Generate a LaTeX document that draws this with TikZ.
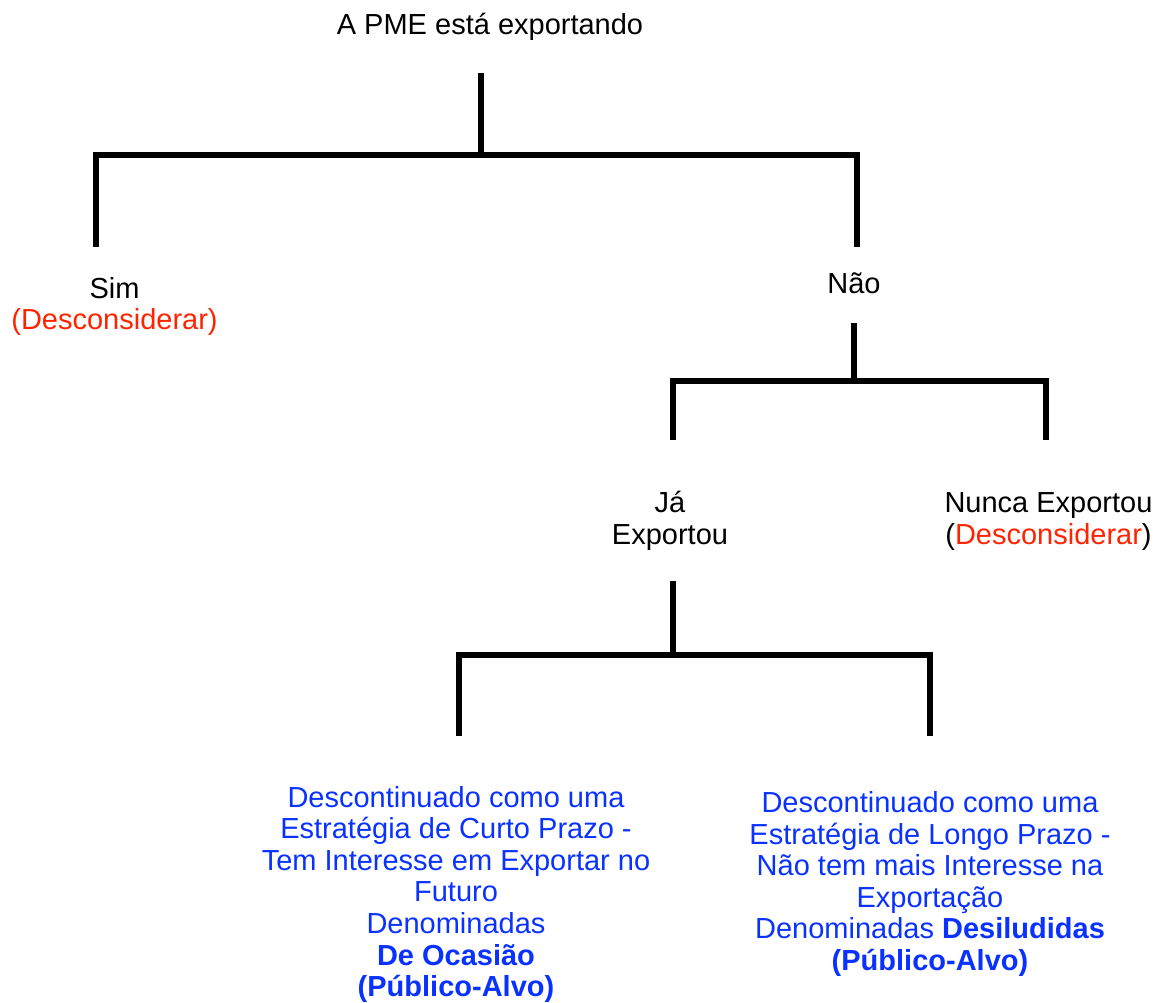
\documentclass[tikz,border=0pt]{standalone}
\usepackage{fontspec}
\setmainfont{Liberation Sans}
\definecolor{redx}{RGB}{255,36,0}
\definecolor{bluex}{RGB}{10,50,255}
\begin{document}
\begin{tikzpicture}[x=1pt,y=-1pt,
  lbl/.style={inner sep=0pt, anchor=base, align=center, font=\fontsize{29}{31.6}\selectfont},
  link/.style={line width=6pt, line cap=butt, line join=miter, black}]
\useasboundingbox[fill=white] (0,0) rectangle (1171,1003);
% labels (base anchor = baseline of the last line)
\node[lbl] (title) at (490,35) {A PME está exportando};
\node[lbl] (sim) at (114.5,330) {Sim\\\textcolor{redx}{(Desconsiderar)}};
\node[lbl] (nao) at (854,294) {Não};
\node[lbl] (ja) at (670,544.5) {Já\\Exportou};
\node[lbl] (nunca) at (1048.5,544.5) {Nunca Exportou\\(\textcolor{redx}{Desconsiderar})};
\node[lbl, text=bluex] (ocasiao) at (456,996.6) {Descontinuado como uma\\Estratégia de Curto Prazo -\\Tem Interesse em Exportar no\\Futuro\\Denominadas\\\textbf{De Ocasião}\\\textbf{(Público-Alvo)}};
\node[lbl, text=bluex] (desil) at (930,970.5) {Descontinuado como uma\\Estratégia de Longo Prazo -\\Não tem mais Interesse na\\Exportação\\Denominadas \textbf{Desiludidas}\\\textbf{(Público-Alvo)}};
% connector points
\coordinate (titleout) at (481,73);
\coordinate (j1) at (481,155);
\coordinate (simin) at (96,247);
\coordinate (naoin) at (857,247);
\coordinate (naoout) at (854,323);
\coordinate (j2) at (854,381);
\coordinate (jain) at (673,440);
\coordinate (nuncain) at (1046,440);
\coordinate (jaout) at (673,581);
\coordinate (j3) at (673,655);
\coordinate (ocin) at (459,736);
\coordinate (dein) at (930,736);
% connectors
\draw[link] (titleout) -- (j1);
\draw[link] (simin) -- (simin |- j1) -- (naoin |- j1) -- (naoin);
\draw[link] (naoout) -- (j2);
\draw[link] (jain) -- (jain |- j2) -- (nuncain |- j2) -- (nuncain);
\draw[link] (jaout) -- (j3);
\draw[link] (ocin) -- (ocin |- j3) -- (dein |- j3) -- (dein);
\end{tikzpicture}
\end{document}
